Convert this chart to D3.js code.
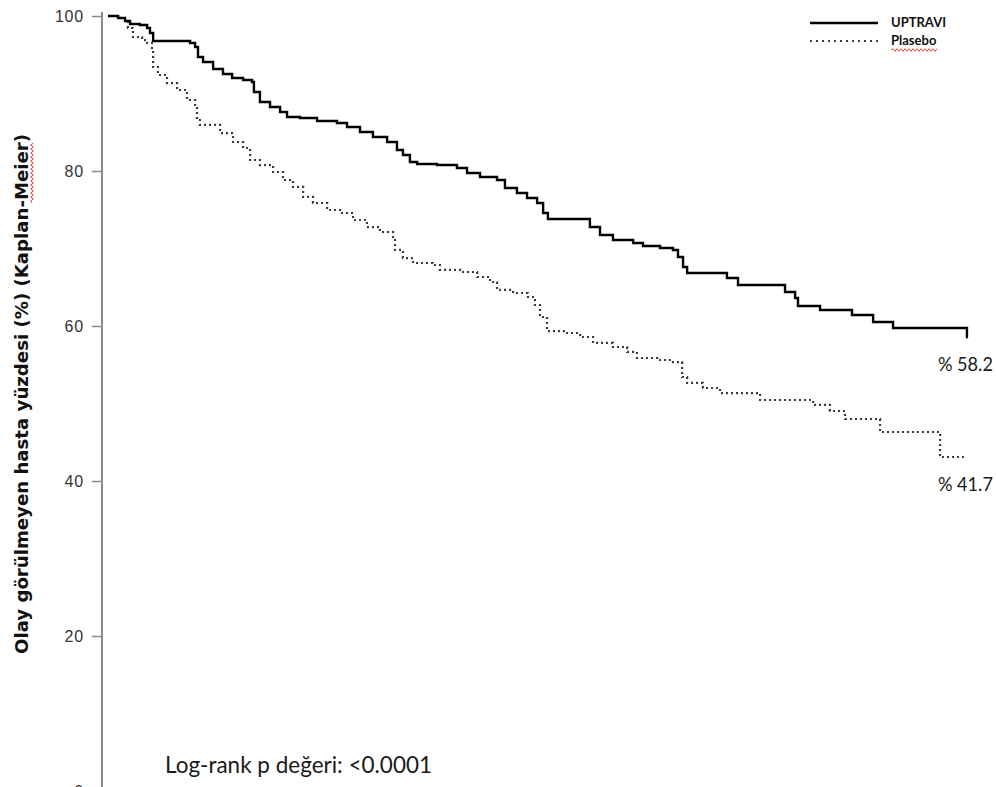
<!DOCTYPE html>
<html>
<head>
<meta charset="utf-8">
<script src="https://cdn.jsdelivr.net/npm/d3@7"></script>
<style>
  body { margin: 0; background: #fff; }
  svg { display: block; }
</style>
</head>
<body>
<svg id="chart"></svg>
<script>
const width = 996;
const height = 787;

// Kaplan-Meier steps (time in months, % event-free)
const uptraviTime = [0, 0.42, 0.71, 0.92, 1.33, 1.63, 1.75, 1.88, 3.42, 3.63, 3.75, 3.96, 4.38, 4.79, 5.17, 5.63, 6.0, 6.08, 6.33, 6.75, 7.17, 7.46, 8.0, 8.71, 9.54, 9.96, 10.5, 11.04, 11.63, 12.04, 12.29, 12.58, 12.88, 13.71, 14.54, 14.96, 15.5, 16.21, 16.54, 17.04, 17.46, 17.88, 18.13, 18.33, 20.08, 20.5, 21.04, 21.88, 22.29, 23.0, 23.54, 23.75, 23.96, 24.13, 25.79, 26.25, 28.21, 28.63, 28.75, 29.67, 31.0, 31.88, 32.71, 35.79, 35.83];
const uptraviValue = [100, 99.74, 99.35, 98.97, 98.84, 98.45, 97.81, 96.77, 96.52, 96.0, 94.71, 94.06, 93.16, 92.52, 92.0, 91.74, 91.48, 90.19, 88.9, 88.26, 87.61, 86.97, 86.84, 86.45, 86.19, 85.68, 85.03, 84.39, 83.74, 82.71, 82.06, 81.16, 80.9, 80.77, 80.39, 79.74, 79.23, 78.84, 77.81, 77.16, 76.52, 75.87, 74.58, 73.81, 72.77, 71.74, 71.1, 70.71, 70.32, 70.06, 69.81, 68.9, 67.61, 66.84, 66.19, 65.29, 64.39, 63.61, 62.58, 62.06, 61.42, 60.52, 59.74, 58.58, 58.58];

const plaseboTime = [0, 0.42, 0.71, 0.83, 1.04, 1.42, 1.63, 1.83, 1.88, 2.08, 2.46, 2.88, 3.29, 3.63, 3.71, 3.83, 4.67, 5.21, 5.63, 5.92, 6.33, 6.88, 7.29, 7.71, 8.13, 8.54, 9.13, 9.67, 10.21, 10.79, 11.33, 11.88, 11.96, 12.29, 12.71, 13.54, 13.83, 14.67, 15.38, 15.92, 16.21, 16.88, 17.5, 17.79, 18.0, 18.29, 19.13, 19.67, 20.21, 21.04, 21.63, 22.04, 22.88, 23.54, 23.92, 24.13, 24.79, 25.5, 27.17, 29.38, 30.08, 30.71, 32.17, 34.67, 35.71];
const plaseboValue = [100, 99.74, 99.35, 98.45, 97.29, 96.9, 96.52, 95.61, 93.42, 92.39, 91.35, 90.45, 89.16, 88.13, 86.58, 85.94, 84.9, 83.74, 82.97, 81.42, 80.77, 79.87, 78.84, 77.94, 76.65, 75.87, 74.97, 74.58, 73.68, 72.77, 72.13, 71.48, 69.81, 68.77, 68.13, 67.87, 67.23, 66.97, 66.32, 65.68, 64.65, 64.26, 63.74, 62.71, 61.16, 59.35, 59.1, 58.58, 57.81, 57.29, 56.65, 55.87, 55.61, 55.35, 53.42, 52.65, 52.0, 51.35, 50.45, 49.81, 49.03, 48.0, 46.32, 43.1, 43.1];

const yTicks = [0, 20, 40, 60, 80, 100];
const seriesNames = ['UPTRAVI', 'Plasebo'];
const finalLabels = ['% 58.2', '% 41.7'];
const yTitle = 'Olay görülmeyen hasta yüzdesi (%) (Kaplan-Meier)';
const pValueText = 'Log-rank p değeri: <0.0001';

const svg = d3.select('#chart')
  .attr('width', width)
  .attr('height', height);

const x = d3.scaleLinear().domain([0, 36]).range([108, 972]);
const y = d3.scaleLinear().domain([0, 100]).range([791, 16]);

// y axis
const yAxis = svg.append('g')
  .attr('transform', 'translate(102,0)')
  .call(d3.axisLeft(y).tickValues(yTicks).tickSizeInner(10).tickSizeOuter(0).tickPadding(8));
yAxis.select('.domain').remove();
yAxis.selectAll('.tick line').attr('stroke', '#8e8a83').attr('stroke-width', 1.5);
yAxis.selectAll('.tick text')
  .attr('fill', '#333')
  .style('font-family', '"Liberation Sans", Arial, sans-serif')
  .style('font-size', '16px')
  .style('letter-spacing', '0.8px');
yAxis.append('line')
  .attr('x1', 0).attr('x2', 0)
  .attr('y1', y(100) - 4).attr('y2', height)
  .attr('stroke', '#8e8a83')
  .attr('stroke-width', 2);

// y title
const titleLen = 520;
const title = svg.append('text')
  .attr('transform', 'translate(28,394) rotate(-90)')
  .attr('text-anchor', 'middle')
  .attr('textLength', titleLen)
  .attr('lengthAdjust', 'spacingAndGlyphs')
  .style('font-family', '"DejaVu Sans", Verdana, sans-serif')
  .style('font-weight', 'bold')
  .style('font-size', '17px')
  .attr('fill', '#111')
  .text(yTitle);

function wavy(x0, x1, yy) {
  let d = 'M' + x0 + ',' + yy;
  let up = true;
  for (let px = x0 + 2; px <= x1; px += 2) {
    d += 'L' + px + ',' + (yy + (up ? -1.3 : 1.3));
    up = !up;
  }
  return d;
}

// spell-check squiggle under "Meier"
(function () {
  const idx = yTitle.indexOf('Meier');
  const start = titleLen / 2 - titleLen * (yTitle.length - idx) / yTitle.length - 4;
  svg.append('path')
    .attr('transform', 'translate(28,394) rotate(-90)')
    .attr('d', wavy(start, titleLen / 2 - 8, 4))
    .attr('fill', 'none')
    .attr('stroke', '#e8403a')
    .attr('stroke-width', 1);
})();

// curves
const line = d3.line()
  .x(d => x(d[0]))
  .y(d => y(d[1]))
  .curve(d3.curveStepAfter);

const uptravi = d3.zip(uptraviTime, uptraviValue);
const plasebo = d3.zip(plaseboTime, plaseboValue);

svg.append('path')
  .datum(plasebo)
  .attr('d', line)
  .attr('fill', 'none')
  .attr('stroke', '#3a3a3a')
  .attr('stroke-width', 2.2)
  .attr('stroke-dasharray', '2,3');

svg.append('path')
  .datum(uptravi)
  .attr('d', line)
  .attr('fill', 'none')
  .attr('stroke', '#000')
  .attr('stroke-width', 2.4);

// end labels
const ends = [uptravi[uptravi.length - 1], plasebo[plasebo.length - 1]];
svg.selectAll('.endLabel')
  .data(finalLabels)
  .enter()
  .append('text')
  .attr('class', 'endLabel')
  .attr('x', x(uptraviTime[uptraviTime.length - 1]) - 30)
  .attr('y', (d, i) => y(ends[i][1]) + 34)
  .attr('textLength', 55)
  .attr('lengthAdjust', 'spacingAndGlyphs')
  .style('font-family', 'Lato, sans-serif')
  .style('font-size', '20px')
  .attr('fill', '#1a1a1a')
  .text(d => d);

// p value
svg.append('text')
  .attr('x', 165)
  .attr('y', 773)
  .attr('textLength', 267)
  .attr('lengthAdjust', 'spacingAndGlyphs')
  .style('font-family', 'Lato, sans-serif')
  .style('font-size', '24px')
  .attr('fill', '#1a1a1a')
  .text(pValueText);

// legend
const legend = svg.append('g').attr('transform', 'translate(810,23)');
legend.selectAll('line')
  .data(seriesNames)
  .enter()
  .append('line')
  .attr('x1', 0).attr('x2', 68)
  .attr('y1', (d, i) => i * 18).attr('y2', (d, i) => i * 18)
  .attr('stroke', (d, i) => i === 0 ? '#000' : '#3a3a3a')
  .attr('stroke-width', (d, i) => i === 0 ? 2.4 : 2)
  .attr('stroke-dasharray', (d, i) => i === 0 ? null : '2,4');
legend.selectAll('text')
  .data(seriesNames)
  .enter()
  .append('text')
  .attr('x', 81)
  .attr('y', (d, i) => i * 18 + 4)
  .style('font-family', 'Lato, sans-serif')
  .style('font-weight', 'bold')
  .style('font-size', '13px')
  .attr('fill', '#111')
  .text(d => d);
legend.append('path')
  .attr('d', wavy(81, 128, 27))
  .attr('fill', 'none')
  .attr('stroke', '#e8403a')
  .attr('stroke-width', 1);
</script>
</body>
</html>
